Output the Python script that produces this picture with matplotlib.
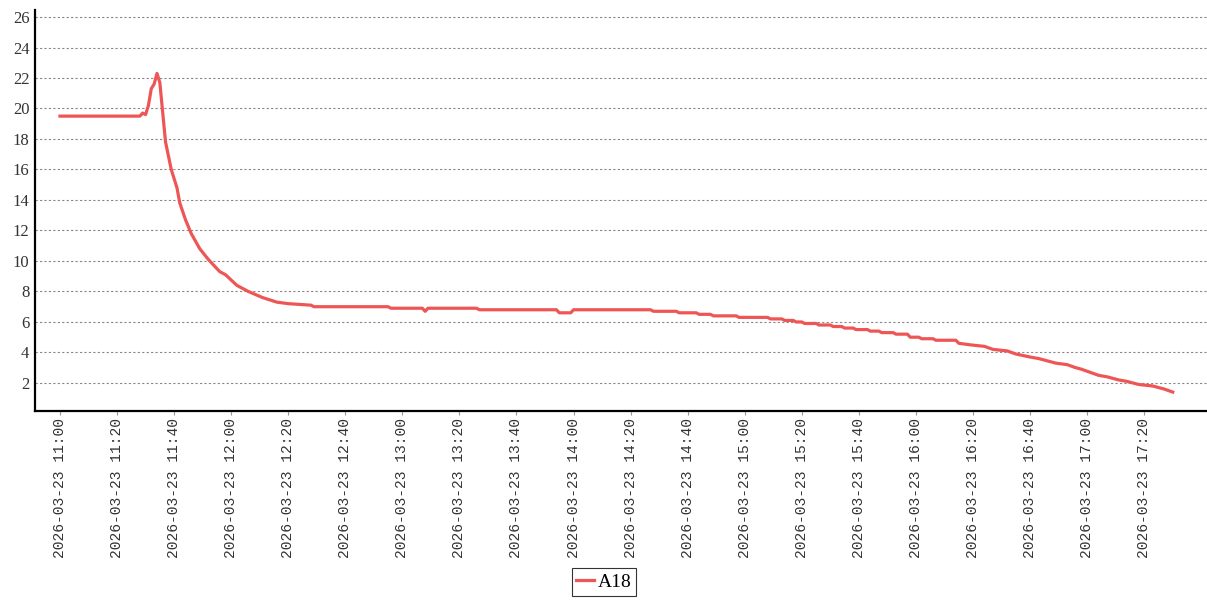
import matplotlib
matplotlib.use("Agg")
import matplotlib.pyplot as plt
import matplotlib.dates as mdates
import pandas as pd

# readings for A18 on 2026-03-23
day = "2026-03-23"
times = ["11:00", "11:28", "11:29", "11:30", "11:31", "11:32", "11:33", "11:34", "11:35",
         "11:37", "11:39", "11:41", "11:42", "11:44", "11:46", "11:49", "11:52", "11:56",
         "11:58", "12:02", "12:06", "12:11", "12:16", "12:20", "12:28", "12:29", "12:55",
         "12:56", "13:07", "13:08", "13:09", "13:26", "13:27", "13:54", "13:55", "13:59",
         "14:00", "14:27", "14:28", "14:36", "14:37", "14:43", "14:44", "14:48", "14:49",
         "14:57", "14:58", "15:08", "15:09", "15:13", "15:14", "15:17", "15:18", "15:20",
         "15:21", "15:25", "15:26", "15:30", "15:31", "15:34", "15:35", "15:38", "15:39",
         "15:43", "15:44", "15:47", "15:48", "15:52", "15:53", "15:57", "15:58", "16:01",
         "16:02", "16:06", "16:07", "16:14", "16:15", "16:19", "16:24", "16:27", "16:32",
         "16:35", "16:40", "16:43", "16:47", "16:49", "16:53", "16:56", "16:58", "17:01",
         "17:04", "17:07", "17:11", "17:14", "17:18", "17:23", "17:27", "17:30"]
a18 = [19.5, 19.5, 19.7, 19.6, 20.2, 21.3, 21.6, 22.3, 21.7,
       17.8, 16.0, 14.8, 13.8, 12.7, 11.8, 10.8, 10.1, 9.3,
       9.1, 8.4, 8.0, 7.6, 7.3, 7.2, 7.1, 7.0, 7.0,
       6.9, 6.9, 6.7, 6.9, 6.9, 6.8, 6.8, 6.6, 6.6,
       6.8, 6.8, 6.7, 6.7, 6.6, 6.6, 6.5, 6.5, 6.4,
       6.4, 6.3, 6.3, 6.2, 6.2, 6.1, 6.1, 6.0, 6.0,
       5.9, 5.9, 5.8, 5.8, 5.7, 5.7, 5.6, 5.6, 5.5,
       5.5, 5.4, 5.4, 5.3, 5.3, 5.2, 5.2, 5.0, 5.0,
       4.9, 4.9, 4.8, 4.8, 4.6, 4.5, 4.4, 4.2, 4.1,
       3.9, 3.7, 3.6, 3.4, 3.3, 3.2, 3.0, 2.9, 2.7,
       2.5, 2.4, 2.2, 2.1, 1.9, 1.8, 1.6, 1.4]
yticks = list(range(2, 27, 2))

t = pd.to_datetime([day + " " + s for s in times])

fig = plt.figure(figsize=(12.07, 6.0), dpi=100)
ax = fig.add_axes([35 / 1207, 1 - 411 / 600, 1 - 35 / 1207, 401 / 600])

line, = ax.plot(t, a18, color="#EE5656", lw=2.3, label="A18", solid_joinstyle="round")

ax.set_ylim(0.16, 26.46)
ax.set_xlim(pd.Timestamp(day + " 10:51:15"), pd.Timestamp(day + " 17:42:00"))
ax.set_yticks(yticks)
ax.yaxis.grid(True, color="#888888", lw=0.8, linestyle=(0, (2, 2)))
ax.set_axisbelow(True)

ax.set_xticks(pd.date_range(day + " 11:00", day + " 17:20", freq="20min"))
ax.xaxis.set_major_formatter(mdates.DateFormatter("%Y-%m-%d %H:%M"))

for side in ["top", "right"]:
    ax.spines[side].set_visible(False)
for side in ["left", "bottom"]:
    ax.spines[side].set_linewidth(1.6)
    ax.spines[side].set_color("black")

ax.tick_params(axis="y", length=0, pad=4, labelsize=12, labelcolor="#333333")
ax.tick_params(axis="x", length=3, width=0.8, color="#999999", pad=2,
               labelsize=10.5, labelcolor="#333333", labelrotation=90)
for lab in ax.get_yticklabels():
    lab.set_fontfamily("Liberation Serif")
for lab in ax.get_xticklabels():
    lab.set_fontfamily("Liberation Mono")

leg = fig.legend(handles=[line], loc="center", bbox_to_anchor=(604 / 1207, 1 - 582 / 600),
                 prop={"family": "Liberation Serif", "size": 14}, frameon=True, fancybox=False,
                 handlelength=0.9, handletextpad=0.2, borderpad=0.25, borderaxespad=0)
leg.get_frame().set_edgecolor("black")
leg.get_frame().set_linewidth(0.8)

fig.savefig("out.png", dpi=100)
